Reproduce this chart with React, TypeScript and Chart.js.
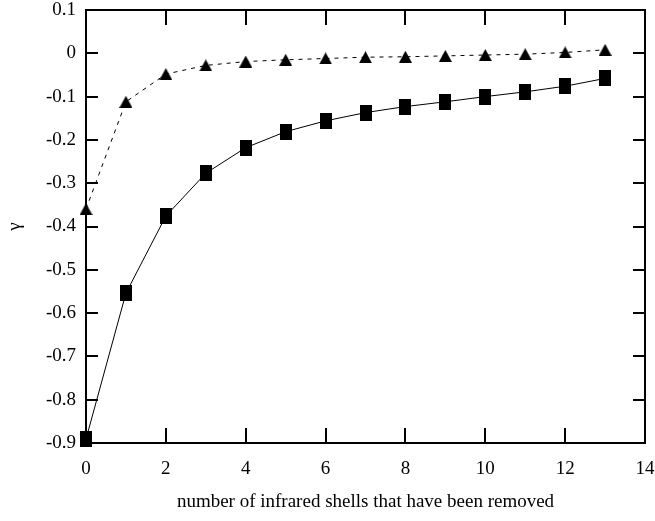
import React, { useEffect, useRef } from "react";
import { Chart, registerables } from "chart.js";

Chart.register(...registerables);

const shells = [0, 1, 2, 3, 4, 5, 6, 7, 8, 9, 10, 11, 12, 13];
const squareSeries = [-0.891, -0.554, -0.376, -0.277, -0.218, -0.181, -0.156, -0.137, -0.123, -0.112, -0.1, -0.089, -0.076, -0.058];
const triangleSeries = [-0.36, -0.112, -0.048, -0.028, -0.019, -0.015, -0.012, -0.009, -0.008, -0.006, -0.004, -0.002, 0.002, 0.008];
const xTicks = [0, 2, 4, 6, 8, 10, 12, 14];
const yTicks = [0.1, 0, -0.1, -0.2, -0.3, -0.4, -0.5, -0.6, -0.7, -0.8, -0.9];

const FONT = "'Liberation Serif', 'DejaVu Serif', serif";

function makeSquare() {
  const c = document.createElement("canvas");
  c.width = 12;
  c.height = 16;
  const g = c.getContext("2d")!;
  g.fillStyle = "#000";
  g.fillRect(0, 0, 12, 16);
  return c;
}

function makeTriangle() {
  const c = document.createElement("canvas");
  c.width = 13;
  c.height = 12;
  const g = c.getContext("2d")!;
  g.fillStyle = "#000";
  g.beginPath();
  g.moveTo(6.5, 0);
  g.lineTo(13, 12);
  g.lineTo(0, 12);
  g.closePath();
  g.fill();
  return c;
}

const frameTicks = {
  id: "frameTicks",
  afterDatasetsDraw(chart: any) {
    const { ctx, chartArea } = chart;
    const xs = chart.scales.x;
    const ys = chart.scales.y;
    const { left, right, top, bottom } = chartArea;
    ctx.save();
    ctx.strokeStyle = "#000";
    ctx.lineWidth = 2;
    ctx.beginPath();
    for (const t of xTicks) {
      const px = Math.round(xs.getPixelForValue(t));
      ctx.moveTo(px, bottom);
      ctx.lineTo(px, bottom - 15);
      ctx.moveTo(px, top);
      ctx.lineTo(px, top + 15);
    }
    for (const t of yTicks) {
      const py = Math.round(ys.getPixelForValue(t));
      ctx.moveTo(left, py);
      ctx.lineTo(left + 12, py);
      ctx.moveTo(right, py);
      ctx.lineTo(right - 12, py);
    }
    ctx.stroke();
    ctx.beginPath();
    ctx.rect(left, top, right - left, bottom - top);
    ctx.stroke();
    ctx.restore();
  },
};

export default function App() {
  const ref = useRef<HTMLCanvasElement | null>(null);
  useEffect(() => {
    if (!ref.current) return;
    const sq = makeSquare();
    const tri = makeTriangle();
    const chart = new Chart(ref.current, {
      type: "scatter",
      data: {
        datasets: [
          {
            label: "squares",
            data: shells.map((x, i) => ({ x, y: squareSeries[i] })),
            showLine: true,
            borderColor: "#000",
            backgroundColor: "#000",
            borderWidth: 1,
            pointStyle: sq as any,
            pointRadius: 8,
            pointBorderWidth: 0,
            clip: false,
          },
          {
            label: "triangles",
            data: shells.map((x, i) => ({ x, y: triangleSeries[i] })),
            showLine: true,
            borderColor: "#000",
            backgroundColor: "#000",
            borderWidth: 1,
            borderDash: [4, 5],
            pointStyle: tri as any,
            pointRadius: 7,
            pointBorderWidth: 0,
            clip: false,
          },
        ],
      },
      options: {
        animation: false,
        responsive: true,
        maintainAspectRatio: false,
        layout: { padding: { left: 0, right: 10, top: 10, bottom: 0 } },
        plugins: { legend: { display: false }, tooltip: { enabled: false } },
        scales: {
          x: {
            type: "linear",
            min: 0,
            max: 14,
            grid: { display: false, drawTicks: false, tickLength: 0 },
            border: { display: false },
            afterBuildTicks: (s: any) => {
              s.ticks = xTicks.map((v) => ({ value: v }));
            },
            afterFit: (s: any) => {
              s.height = 78;
              s.paddingLeft = 0;
              s.paddingRight = 0;
            },
            ticks: {
              color: "#000",
              font: { family: FONT, size: 19 },
              padding: 15,
              maxRotation: 0,
              callback: (v: any) => String(v),
            },
            title: {
              display: true,
              text: "number of infrared shells that have been removed",
              color: "#000",
              font: { family: FONT, size: 19 },
              padding: { top: 0, bottom: 8 },
            },
          },
          y: {
            type: "linear",
            min: -0.9,
            max: 0.1,
            grid: { display: false, drawTicks: false, tickLength: 0 },
            border: { display: false },
            afterBuildTicks: (s: any) => {
              s.ticks = yTicks.map((v) => ({ value: v }));
            },
            afterFit: (s: any) => {
              s.width = 86;
              s.paddingTop = 0;
              s.paddingBottom = 0;
            },
            ticks: {
              color: "#000",
              font: { family: FONT, size: 19 },
              padding: 10,
              callback: (v: any) => {
                const n = Math.round(Number(v) * 10) / 10;
                return n === 0 ? "0" : String(n);
              },
            },
            title: {
              display: true,
              text: "γ",
              color: "#000",
              font: { family: FONT, size: 19 },
              padding: { top: 4, bottom: 0 },
            },
          },
        },
      },
      plugins: [frameTicks],
    });
    return () => chart.destroy();
  }, []);
  return (
    <div style={{ position: "absolute", left: 0, top: 0, width: 655, height: 521, background: "#fff" }}>
      <canvas ref={ref} />
    </div>
  );
}
